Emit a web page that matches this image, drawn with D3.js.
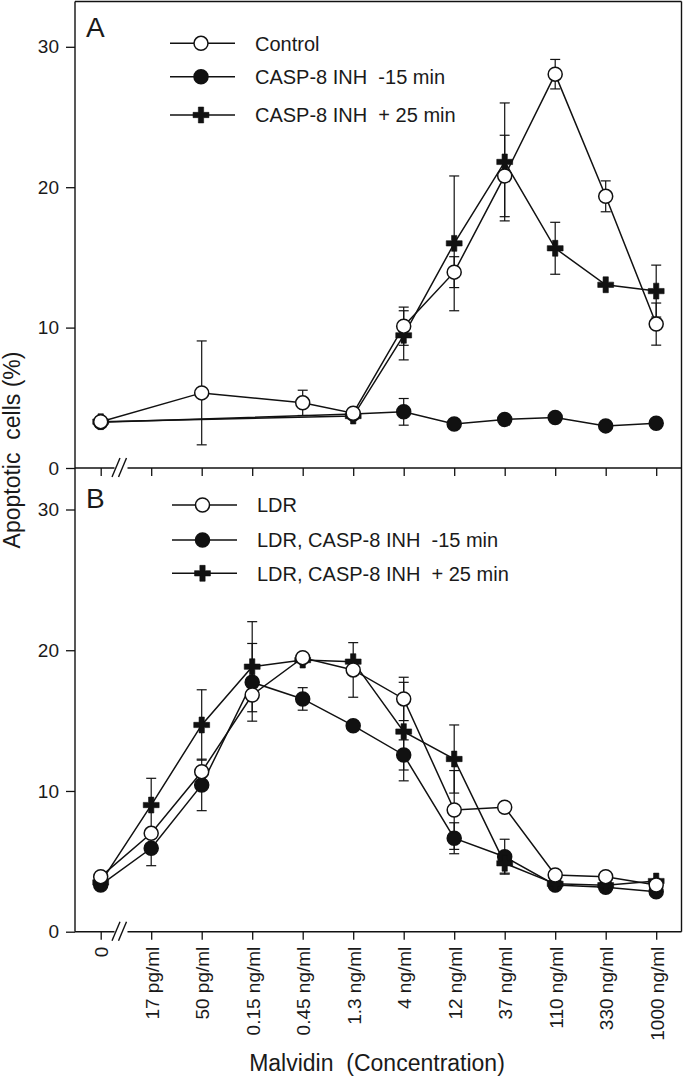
<!DOCTYPE html>
<html>
<head>
<meta charset="utf-8">
<script src="https://cdn.jsdelivr.net/npm/d3@7"></script>
<style>
  html, body { margin: 0; padding: 0; background: #fff; }
  svg { display: block; }
  text { font-family: "Liberation Sans", Arial, Helvetica, sans-serif; fill: #1a1a1a; white-space: pre; }
</style>
</head>
<body>
<svg id="chart" width="683" height="1077"></svg>
<script>
// ---------- DATA ----------
const categories = ["0", "17 pg/ml", "50 pg/ml", "0.15 ng/ml", "0.45 ng/ml", "1.3 ng/ml",
                    "4 ng/ml", "12 ng/ml", "37 ng/ml", "110 ng/ml", "330 ng/ml", "1000 ng/ml"];
const yTicks = [0, 10, 20, 30];

// Panel A
const controlA      = [3.3, null, 5.35, null, 4.64, 3.9, 10.1, 13.95, 20.8, 28.05, 19.35, 10.25];
const controlAErr   = [0, null, 3.7, null, 0.9, 0, 1.36, 1.1, 2.9, 1.05, 1.1, 1.5];
const inhEarlyA     = [3.25, null, null, null, null, 3.85, 4.0, 3.13, 3.46, 3.6, 3.0, 3.18];
const inhEarlyAErr  = [0, null, null, null, null, 0, 0.95, 0, 0, 0, 0, 0];
const inhLateA      = [3.3, null, null, null, null, 3.7, 9.45, 16.0, 21.8, 15.65, 13.05, 12.6];
const inhLateAErr   = [0, null, null, null, null, 0, 1.75, 4.8, 4.2, 1.85, 0, 1.85];

// Panel B
const ldrB          = [3.91, 6.99, 11.37, 16.82, 19.47, 18.6, 16.54, 8.65, 8.84, 4.03, 3.91, 3.32];
const ldrBErr       = [0, 0, 0, 0, 0, 1.94, 1.54, 2.8, 0, 0, 0, 0];
const inhEarlyB     = [3.32, 5.93, 10.43, 17.72, 16.54, 14.64, 12.56, 6.64, 5.33, 3.32, 3.16, 2.84];
const inhEarlyBErr  = [0, 1.24, 1.83, 2.76, 0.8, 0, 1.07, 1.1, 1.24, 0, 0, 0];
const inhLateB      = [3.5, 9.0, 14.69, 18.83, 19.3, 19.19, 14.22, 12.27, 4.86, 3.4, 3.3, 3.6];
const inhLateBErr   = [0, 1.9, 2.5, 3.2, 0, 0, 3.5, 2.42, 0.7, 0, 0, 0];

const legendA = ["Control", "CASP-8 INH  -15 min", "CASP-8 INH  + 25 min"];
const legendB = ["LDR", "LDR, CASP-8 INH  -15 min", "LDR, CASP-8 INH  + 25 min"];
const xTitle = "Malvidin  (Concentration)";
const yTitle = "Apoptotic  cells (%)";

// ---------- LAYOUT ----------
const svg = d3.select("#chart");
const frameL = 75, frameR = 681.5, frameT = 1.5;
const x = d3.scalePoint().domain(categories).range([100.7, 656.2]);
const yA = d3.scaleLinear().domain([0, 30]).range([468, 46.8]);
const yB = d3.scaleLinear().domain([0, 30]).range([931.7, 509.5]);

const ink = "#111";

// frame
svg.append("line").attr("x1", frameL).attr("x2", frameL).attr("y1", frameT).attr("y2", yB(0))
  .attr("stroke", ink).attr("stroke-width", 1.4);
svg.append("line").attr("x1", frameL).attr("x2", frameR).attr("y1", frameT).attr("y2", frameT)
  .attr("stroke", ink).attr("stroke-width", 1.4);
svg.append("line").attr("x1", frameR).attr("x2", frameR).attr("y1", frameT).attr("y2", yB(0))
  .attr("stroke", ink).attr("stroke-width", 1.4);

function drawAxes(y, showLabels) {
  const y0 = y(0);
  const ya = svg.append("g").attr("transform", `translate(${frameL},0)`)
    .call(d3.axisLeft(y).tickValues(yTicks).tickSize(9).tickPadding(7).tickFormat(d3.format("d")));
  ya.select(".domain").remove();
  ya.selectAll("line").attr("stroke", ink).attr("stroke-width", 1.3);
  ya.selectAll("text").attr("font-size", 19).style("font-family", "'Liberation Sans', Arial, sans-serif").attr("fill", "#222");

  const xa = svg.append("g").attr("transform", `translate(0,${y0})`)
    .call(d3.axisBottom(x).tickSize(8).tickPadding(0).tickFormat(showLabels ? (d => d) : () => ""));
  xa.select(".domain").remove();
  xa.selectAll("line").attr("stroke", ink).attr("stroke-width", 1.3);
  if (showLabels) {
    xa.selectAll("text")
      .attr("transform", "rotate(-90)")
      .attr("text-anchor", "end")
      .attr("x", -15).attr("y", 0).attr("dy", "0.36em")
      .attr("font-size", 19)
      .style("font-family", "'Liberation Sans', Arial, sans-serif")
      .attr("fill", "#222");
  }
  svg.append("line").attr("x1", frameL).attr("x2", 114.5).attr("y1", y0).attr("y2", y0)
    .attr("stroke", ink).attr("stroke-width", 1.4);
  svg.append("line").attr("x1", 127.5).attr("x2", frameR).attr("y1", y0).attr("y2", y0)
    .attr("stroke", ink).attr("stroke-width", 1.4);
  [0, 6.5].forEach(o => {
    svg.append("line")
      .attr("x1", 112 + o).attr("y1", y0 + 9)
      .attr("x2", 120 + o).attr("y2", y0 - 10)
      .attr("stroke", ink).attr("stroke-width", 1.4);
  });
}
drawAxes(yA, false);
drawAxes(yB, true);

// ---------- SERIES ----------
const crossPath = d3.symbol().type(d3.symbolCross).size(140)();

function drawMarker(g, kind, cx, cy) {
  if (kind === "cross") {
    g.append("path").attr("d", crossPath).attr("transform", `translate(${cx},${cy})`)
      .attr("fill", ink).attr("stroke", ink).attr("stroke-width", 0.6);
  } else {
    g.append("circle").attr("cx", cx).attr("cy", cy).attr("r", 7)
      .attr("fill", kind === "open" ? "#fff" : ink)
      .attr("stroke", ink).attr("stroke-width", 1.5);
  }
}

function drawPanel(y, seriesList) {
  const pts = s => categories.map((c, i) => ({c, v: s.vals[i], e: s.errs[i]})).filter(p => p.v != null);
  const line = d3.line().x(p => x(p.c)).y(p => y(p.v));
  const gL = svg.append("g"), gE = svg.append("g"), gM = svg.append("g");
  seriesList.forEach(s => {
    gL.append("path").attr("d", line(pts(s))).attr("fill", "none")
      .attr("stroke", ink).attr("stroke-width", 1.5);
  });
  seriesList.forEach(s => {
    pts(s).filter(p => p.e > 0).forEach(p => {
      const cx = x(p.c), hi = y(p.v + p.e), lo = y(p.v - p.e);
      gE.append("line").attr("x1", cx).attr("x2", cx).attr("y1", hi).attr("y2", lo)
        .attr("stroke", ink).attr("stroke-width", 1.2);
      [hi, lo].forEach(yy => gE.append("line").attr("x1", cx - 5).attr("x2", cx + 5)
        .attr("y1", yy).attr("y2", yy).attr("stroke", ink).attr("stroke-width", 1.2));
    });
  });
  seriesList.forEach(s => {
    pts(s).forEach(p => drawMarker(gM, s.kind, x(p.c), y(p.v)));
  });
}

drawPanel(yA, [
  {vals: inhEarlyA, errs: inhEarlyAErr, kind: "filled"},
  {vals: inhLateA, errs: inhLateAErr, kind: "cross"},
  {vals: controlA, errs: controlAErr, kind: "open"}
]);
drawPanel(yB, [
  {vals: inhEarlyB, errs: inhEarlyBErr, kind: "filled"},
  {vals: inhLateB, errs: inhLateBErr, kind: "cross"},
  {vals: ldrB, errs: ldrBErr, kind: "open"}
]);

// ---------- LEGENDS ----------
function drawLegend(labels, rows, x1, x2, xs, xt) {
  const kinds = ["open", "filled", "cross"];
  const g = svg.append("g");
  labels.forEach((lab, i) => {
    const yy = rows[i];
    g.append("line").attr("x1", x1).attr("x2", x2).attr("y1", yy).attr("y2", yy)
      .attr("stroke", ink).attr("stroke-width", 1.5);
    drawMarker(g, kinds[i], xs, yy);
    g.append("text").attr("x", xt).attr("y", yy).attr("dy", "0.36em")
      .attr("font-size", 20).text(lab);
  });
}
drawLegend(legendA, [43.3, 76.7, 115], 170, 235, 201, 255);
drawLegend(legendB, [505, 540, 573.3], 172, 237, 202.5, 257);

// ---------- LABELS ----------
svg.append("text").attr("x", 86).attr("y", 37).attr("font-size", 28).text("A");
svg.append("text").attr("x", 86).attr("y", 508).attr("font-size", 28).text("B");

svg.append("text").attr("transform", "translate(20,450) rotate(-90)")
  .attr("text-anchor", "middle").attr("font-size", 23).text(yTitle);
svg.append("text").attr("x", 377).attr("y", 1071)
  .attr("text-anchor", "middle").attr("font-size", 23).text(xTitle);
</script>
</body>
</html>
